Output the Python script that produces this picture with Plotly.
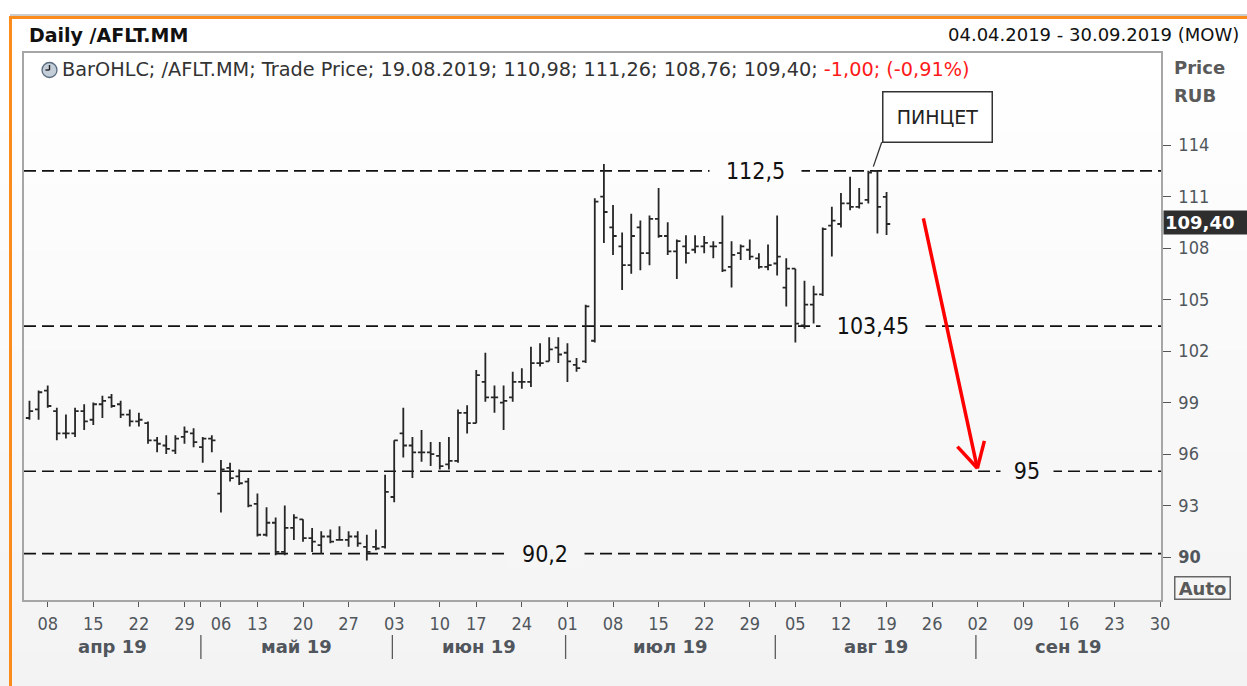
import plotly.graph_objects as go
import pandas as pd

# ---------------- data ----------------
holidays = ["2019-05-01", "2019-05-09", "2019-06-12"]
calendar = pd.bdate_range("2019-04-04", "2019-09-30", freq="C", holidays=holidays)

opens = [98.1, 98.6, 99.7, 98.5, 97.2, 97.2, 98.5, 98.0, 98.9, 99.3,
         98.9, 98.3, 97.9, 97.8, 96.8, 96.5, 96.2, 97.0, 97.2, 96.4,
         96.9, 93.7, 95.2, 94.7, 94.4, 93.1, 91.3, 92.0, 90.3, 91.7,
         92.2, 91.1, 90.7, 91.2, 91.0, 91.0, 91.2, 90.6, 90.6, 90.6,
         93.5, 97.2, 96.5, 96.1, 96.1, 95.9, 95.4, 95.6, 98.4, 97.8,
         100.2, 99.3, 99.0, 99.3, 100.2, 100.2, 101.3, 101.4, 102.2, 101.9,
         101.2, 101.4, 102.6, 111.0, 109.2, 108.1, 107.0, 109.2, 107.7, 109.7,
         108.7, 107.8, 108.1, 107.9, 108.1, 108.1, 108.3, 106.9, 107.7, 107.9,
         107.4, 106.9, 107.1, 105.7, 106.8, 103.5, 104.7, 105.3, 109.3, 109.4,
         110.6, 110.4, 110.8, 112.5, 110.98]
highs = [99.1, 99.7, 100.0, 98.7, 98.3, 98.7, 98.9, 99.0, 99.4, 99.5,
         99.1, 98.6, 98.4, 97.9, 97.0, 97.1, 97.1, 97.6, 97.5, 97.0,
         97.1, 95.65, 95.5, 95.1, 94.6, 93.7, 92.9, 92.3, 93.0, 92.5,
         92.2, 91.7, 91.5, 91.6, 91.8, 91.5, 91.5, 91.3, 91.6, 94.8,
         96.8, 98.7, 97.0, 97.4, 96.7, 96.7, 97.0, 98.6, 98.85, 100.9,
         101.9, 100.0, 100.0, 100.8, 101.0, 102.25, 102.45, 102.8, 102.8, 102.45,
         101.6, 104.7, 110.9, 112.9, 110.5, 108.9, 110.0, 109.6, 109.9, 111.5,
         109.5, 108.5, 108.75, 108.75, 108.7, 108.4, 109.9, 108.4, 108.2, 108.5,
         107.7, 108.2, 109.9, 107.4, 106.8, 106.1, 105.8, 109.2, 110.4, 111.2,
         112.15, 111.5, 112.5, 112.5, 111.26]
lows = [98.0, 98.0, 98.7, 96.8, 96.9, 97.0, 97.4, 97.7, 98.1, 98.7,
        98.1, 97.6, 97.6, 96.6, 96.1, 96.0, 96.0, 96.6, 96.4, 95.5,
        96.1, 92.6, 94.4, 94.2, 92.9, 91.2, 91.2, 90.1, 90.1, 91.0,
        90.9, 90.3, 90.2, 90.8, 91.0, 90.6, 90.6, 89.8, 90.4, 90.5,
        93.2, 95.8, 94.6, 95.55, 95.3, 95.1, 95.1, 95.5, 97.2, 97.8,
        99.05, 98.4, 97.4, 99.05, 99.8, 99.9, 101.1, 101.4, 101.3, 100.2,
        100.8, 101.3, 102.5, 108.3, 107.6, 105.55, 106.5, 106.7, 107.0, 108.6,
        107.6, 106.2, 107.1, 107.7, 107.7, 107.4, 106.6, 105.7, 107.3, 107.3,
        106.8, 106.7, 106.4, 104.6, 102.5, 103.3, 103.6, 105.2, 107.5, 109.2,
        110.2, 110.3, 110.6, 108.85, 108.76]
closes = [98.5, 99.6, 98.8, 97.2, 97.2, 98.5, 97.9, 98.9, 99.1, 98.8,
          98.3, 97.9, 98.0, 96.8, 96.6, 96.3, 96.9, 97.3, 96.7, 96.9,
          96.8, 95.1, 94.6, 94.3, 93.0, 91.3, 92.0, 90.3, 91.7, 92.3,
          91.1, 90.9, 91.2, 90.9, 91.0, 91.2, 90.8, 90.3, 90.5, 93.8,
          96.8, 96.5, 96.1, 96.1, 96.0, 95.3, 95.6, 98.4, 97.8, 100.6,
          99.3, 99.3, 99.1, 100.2, 100.2, 101.3, 101.3, 102.1, 101.8, 101.4,
          101.0, 104.6, 110.7, 110.1, 108.7, 107.0, 108.7, 107.7, 109.7, 108.7,
          107.8, 108.4, 107.7, 108.1, 108.3, 108.1, 106.7, 107.6, 108.1, 107.5,
          106.9, 107.0, 107.5, 106.8, 103.6, 104.7, 105.3, 109.1, 109.6, 110.6,
          110.4, 110.6, 112.4, 110.4, 109.40]

levels = [112.5, 103.45, 95.0, 90.2]
level_labels = ["112,5", "103,45", "95", "90,2"]
y_ticks = [90, 93, 96, 99, 102, 105, 108, 111, 114]
month_names = {4: "апр", 5: "май", 6: "июн", 7: "июл", 8: "авг", 9: "сен"}

# ---------------- style / layout constants ----------------
W, H = 1247, 686
L, R, T, B = 24, 86, 53, 86
PW, PH = W - L - R, H - T - B
FONT_C = "DejaVu Sans Condensed, DejaVu Sans, sans-serif"
FONT = "DejaVu Sans, sans-serif"
BAR = "#262626"
GREY_TXT = "#50565c"
X_RANGE = [-0.6, 124.1]
Y_RANGE = [87.5, 119.36]


def px_x(px):
    return (px - L) / PW


def px_y(py):
    return (H - B - py) / PH


def bg_col(py):
    v = 255 - 12 * max(0.0, py - 60) / 626
    v = int(round(min(255, v)))
    return f"rgb({v},{v},{v})"


n = len(closes)
x = list(range(n))

fig = go.Figure()
fig.add_trace(go.Ohlc(
    x=x, open=opens, high=highs, low=lows, close=closes,
    increasing=dict(line=dict(color=BAR, width=1.8)),
    decreasing=dict(line=dict(color=BAR, width=1.8)),
    tickwidth=0.4, hoverinfo="skip", showlegend=False,
))

shapes = []
# background gradient bands
bands = 40
for k in range(bands):
    py0 = 15 + (H - 15) * k / bands
    py1 = 15 + (H - 15) * (k + 1) / bands
    shapes.append(dict(type="rect", xref="paper", yref="paper",
                       x0=px_x(0), x1=px_x(W), y0=px_y(py1), y1=px_y(py0) + 0.001,
                       fillcolor=bg_col((py0 + py1) / 2), line=dict(width=0), layer="below"))
# frame lines (grey + orange)
shapes.append(dict(type="line", xref="paper", yref="paper", x0=px_x(10), x1=px_x(W),
                   y0=px_y(15), y1=px_y(15), line=dict(color="#9a9a9a", width=1.2), layer="above"))
shapes.append(dict(type="line", xref="paper", yref="paper", x0=px_x(10), x1=px_x(W),
                   y0=px_y(17.5), y1=px_y(17.5), line=dict(color="#fb8c1c", width=3), layer="above"))
shapes.append(dict(type="line", xref="paper", yref="paper", x0=px_x(10.5), x1=px_x(10.5),
                   y0=px_y(16), y1=px_y(H), line=dict(color="#fb8c1c", width=3), layer="above"))

# horizontal dashed levels
for lv in levels:
    shapes.append(dict(type="line", xref="paper", yref="y", x0=0, x1=1, y0=lv, y1=lv,
                       line=dict(color="#111111", width=1.7, dash="12px,6px"), layer="below"))

# month separators
month_starts = [i for i in range(1, len(calendar)) if calendar[i].month != calendar[i - 1].month]
bounds = [X_RANGE[0]] + [i - 0.2 for i in month_starts] + [X_RANGE[1]]
for b in bounds[1:-1]:
    shapes.append(dict(type="line", xref="x", yref="paper", x0=b, x1=b,
                       y0=px_y(635), y1=px_y(659), line=dict(color="#5a5a5a", width=1.3)))

# red arrow (line + open head)
arrow_start = (98.04, 109.73)
arrow_tip = (103.96, 95.17)
arm_a = (101.77, 96.43)
arm_b = (104.73, 96.77)
for p in (arrow_start, arm_a, arm_b):
    shapes.append(dict(type="line", xref="x", yref="y", x0=p[0], y0=p[1],
                       x1=arrow_tip[0], y1=arrow_tip[1],
                       line=dict(color="#ff0000", width=3.5), layer="above"))

# pointer from "ПИНЦЕТ" box to tweezers top
shapes.append(dict(type="line", xref="x", yref="y", x0=93.47, y0=114.16, x1=92.55, y1=112.74,
                   line=dict(color="#333333", width=1.3), layer="above"))

# clock icon
shapes.append(dict(type="circle", xref="paper", yref="paper",
                   x0=px_x(42), x1=px_x(57), y0=px_y(77.5), y1=px_y(62.5),
                   fillcolor="#c3ced9", line=dict(color="#5b6c7e", width=1.3), layer="above"))
shapes.append(dict(type="line", xref="paper", yref="paper", x0=px_x(49.5), x1=px_x(49.5),
                   y0=px_y(70), y1=px_y(65), line=dict(color="#222", width=1.4), layer="above"))
shapes.append(dict(type="line", xref="paper", yref="paper", x0=px_x(45.5), x1=px_x(49.5),
                   y0=px_y(70), y1=px_y(70), line=dict(color="#222", width=1.4), layer="above"))

annotations = []
# level labels
level_pos = [79.6, 92.5, 109.4, 56.5]
for lv, lab, xp in zip(levels, level_labels, level_pos):
    py = (H - B) - (lv - Y_RANGE[0]) / (Y_RANGE[1] - Y_RANGE[0]) * PH
    annotations.append(dict(x=xp, y=lv, xref="x", yref="y", text=lab, showarrow=False,
                            xanchor="center", yanchor="middle",
                            font=dict(family=FONT_C, size=23, color="#111111"),
                            bgcolor=bg_col(py), width=len(lab) * 13 + 26, height=26,
                            borderpad=0))

# ПИНЦЕТ box
annotations.append(dict(x=99.54, y=115.63, xref="x", yref="y", text="ПИНЦЕТ", showarrow=False,
                        xanchor="center", yanchor="middle",
                        font=dict(family=FONT, size=19, color="#222222"), bgcolor="#ffffff",
                        bordercolor="#333333", borderwidth=1.5, borderpad=2, width=104, height=45))

# header texts
annotations.append(dict(x=px_x(27), y=px_y(35), xref="paper", yref="paper", xanchor="left",
                        yanchor="middle", text="<b>Daily /AFLT.MM</b>", showarrow=False,
                        font=dict(family=FONT, size=19, color="#111111")))
annotations.append(dict(x=px_x(1241), y=px_y(35), xref="paper", yref="paper", xanchor="right",
                        yanchor="middle", text="04.04.2019 - 30.09.2019 (MOW)", showarrow=False,
                        font=dict(family=FONT, size=18, color="#111111")))


def fmt(v):
    return f"{v:.2f}".replace(".", ",")


chg = closes[-1] - closes[-2]
pct = chg / closes[-2] * 100
last_date = calendar[n - 1].strftime("%d.%m.%Y")
legend_txt = (f"BarOHLC; /AFLT.MM; Trade Price; {last_date}; {fmt(opens[-1])}; {fmt(highs[-1])}; "
              f"{fmt(lows[-1])}; {fmt(closes[-1])}; "
              f"<span style='color:#ff1a1a'>{fmt(chg)}; ({fmt(pct)}%)</span>")
annotations.append(dict(x=px_x(60), y=px_y(70), xref="paper", yref="paper", xanchor="left",
                        yanchor="middle", text=legend_txt, showarrow=False,
                        font=dict(family=FONT, size=19.3, color="#333333")))

# right axis header
annotations.append(dict(x=px_x(1172), y=px_y(67), xref="paper", yref="paper", xanchor="left",
                        yanchor="middle", text="<b>Price</b>", showarrow=False,
                        font=dict(family=FONT, size=18, color="#5a5a5a")))
annotations.append(dict(x=px_x(1172), y=px_y(95), xref="paper", yref="paper", xanchor="left",
                        yanchor="middle", text="<b>RUB</b>", showarrow=False,
                        font=dict(family=FONT, size=18, color="#5a5a5a")))
# last price box
annotations.append(dict(x=px_x(1162.5), y=closes[-1], xref="paper", yref="y", xanchor="left",
                        yanchor="middle", yshift=2, text=f"<b>{fmt(closes[-1])}</b>", showarrow=False,
                        align="left", font=dict(family=FONT, size=18, color="#ffffff"),
                        bgcolor="#2e2e2e", borderpad=1, width=84, height=21))
# Auto box
annotations.append(dict(x=px_x(1202), y=px_y(587.5), xref="paper", yref="paper",
                        xanchor="center", yanchor="middle",
                        text="<b>Auto</b>", showarrow=False,
                        font=dict(family=FONT, size=18, color="#5a5a5a"),
                        bordercolor="#666666", borderwidth=1.5, borderpad=0, width=54, height=21))

# month labels
for k in range(len(bounds) - 1):
    a, b = bounds[k], bounds[k + 1]
    mid = (a + b) / 2
    idx = min(int(round(a + 0.5)), len(calendar) - 1) if k > 0 else 0
    m = calendar[idx]
    annotations.append(dict(x=mid, y=px_y(646), xref="x", yref="paper",
                            xanchor="center", yanchor="middle",
                            text=f"<b>{month_names[m.month]} {m.strftime('%y')}</b>", showarrow=False,
                            font=dict(family=FONT, size=18, color=GREY_TXT)))

# x ticks: Mondays, plus month-boundary ticks
tickvals = [i for i, d in enumerate(calendar) if d.weekday() == 0]
ticktext = [calendar[i].strftime("%d") for i in tickvals]
for i in month_starts:
    if calendar[i].weekday() != 0:
        tickvals.append(i - 0.2)
        ticktext.append("")

fig.update_layout(
    width=W, height=H, autosize=False,
    margin=dict(l=L, r=R, t=T, b=B, pad=0),
    paper_bgcolor="#ffffff", plot_bgcolor="rgba(0,0,0,0)",
    shapes=shapes, annotations=annotations, showlegend=False,
    font=dict(family=FONT_C, color=GREY_TXT),
    xaxis=dict(range=X_RANGE, rangeslider=dict(visible=False), showgrid=False, zeroline=False,
               tickmode="array", tickvals=tickvals, ticktext=ticktext,
               ticks="outside", ticklen=5, tickwidth=1.3, tickcolor="#555555",
               tickfont=dict(family=FONT_C, size=18, color=GREY_TXT), ticklabelstandoff=2,
               showline=True, linecolor="#a6a6a6", linewidth=1.5, mirror=True),
    yaxis=dict(range=Y_RANGE, side="right", showgrid=False, zeroline=False,
               tickmode="array", tickvals=y_ticks,
               ticktext=[f"<b>{v}</b>" if v == min(y_ticks) else str(v) for v in y_ticks],
               ticks="outside", ticklen=8, tickwidth=1.3, tickcolor="#555555",
               tickfont=dict(family=FONT_C, size=18, color=GREY_TXT), ticklabelstandoff=4,
               showline=True, linecolor="#a6a6a6", linewidth=1.5, mirror=True),
)

fig.write_html("out.html", config={"displayModeBar": False},
               post_script="document.body.style.margin='0px';document.body.style.overflow='hidden';")
